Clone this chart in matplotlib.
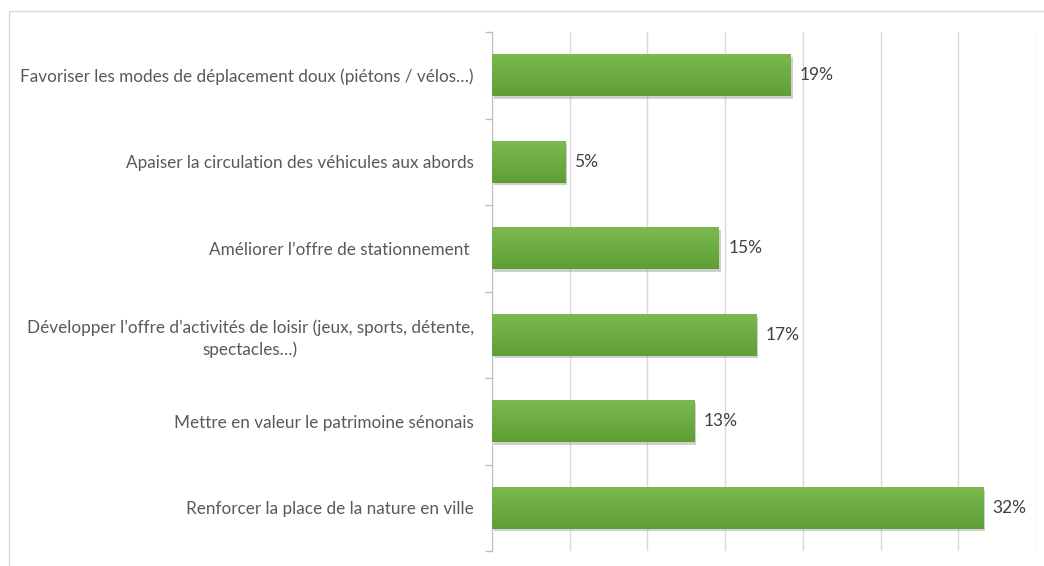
import matplotlib
matplotlib.use("Agg")
import matplotlib.pyplot as plt
import matplotlib.patheffects as pe
from matplotlib.patches import Rectangle
import numpy as np

categories = [
    "Favoriser les modes de déplacement doux (piétons / vélos…)",
    "Apaiser la circulation des véhicules aux abords",
    "Améliorer l’offre de stationnement ",
    "Développer l’offre d’activités de loisir (jeux, sports, détente,\nspectacles…)",
    "Mettre en valeur le patrimoine sénonais",
    "Renforcer la place de la nature en ville",
]
values = [19.2, 4.7, 14.6, 17.0, 13.0, 31.6]
value_labels = ["19%", "5%", "15%", "17%", "13%", "32%"]

plt.rcParams['font.family'] = ['Lato', 'DejaVu Sans']

fig = plt.figure(figsize=(10.44, 5.66), dpi=100)
# outer frame
fig.patches.append(Rectangle((9/1044, -0.01), 1.2, (566-11)/566 + 0.01, transform=fig.transFigure,
                             fill=False, edgecolor="#d9d9d9", linewidth=1.0))
ax = fig.add_axes([492/1044, 15/566, (1036-492)/1044, (551-32)/566])

y = np.arange(len(categories))
bars = ax.barh(y, values, height=0.48, color="#6aab41", zorder=3,
               path_effects=[pe.SimplePatchShadow(offset=(1.5, -2), shadow_rgbFace="#a0a0a0", alpha=0.5), pe.Normal()])

# gradient overlay
cmap = matplotlib.colors.LinearSegmentedColormap.from_list("g", ["#7cb94f", "#5e9f35"])
for b in bars:
    x0, y0 = b.get_x(), b.get_y()
    w, h = b.get_width(), b.get_height()
    grad = np.linspace(0, 1, 50).reshape(-1, 1)
    im = ax.imshow(grad, extent=[x0, x0 + w, y0 + h, y0], aspect='auto',
                   cmap=cmap, zorder=4, origin='upper')
    im.set_clip_path(b)

for yi, v, lab in zip(y, values, value_labels):
    ax.text(v + 0.6, yi, lab, va='center', ha='left', fontsize=12.5, color="#404040", zorder=5)

ax.set_xlim(0, 35)
ax.set_ylim(len(categories) - 0.5, -0.5)
ax.set_xticks(np.arange(0, 36, 5))
ax.set_xticklabels([])
ax.tick_params(axis='x', length=0)
ax.grid(axis='x', color="#d9d9d9", linewidth=1.0, zorder=0)
ax.set_yticks(y)
ax.set_yticklabels(categories, fontsize=12.3, color="#595959", multialignment='center', linespacing=1.4)
ax.tick_params(axis='y', which='major', length=0, pad=13)
ax.set_yticks(np.arange(-0.5, len(categories), 1.0), minor=True)
ax.tick_params(axis='y', which='minor', length=5, color="#bfbfbf", width=1)
for s in ['top', 'right', 'bottom']:
    ax.spines[s].set_visible(False)
ax.spines['left'].set_color("#bfbfbf")

fig.savefig("out.png", dpi=100)
